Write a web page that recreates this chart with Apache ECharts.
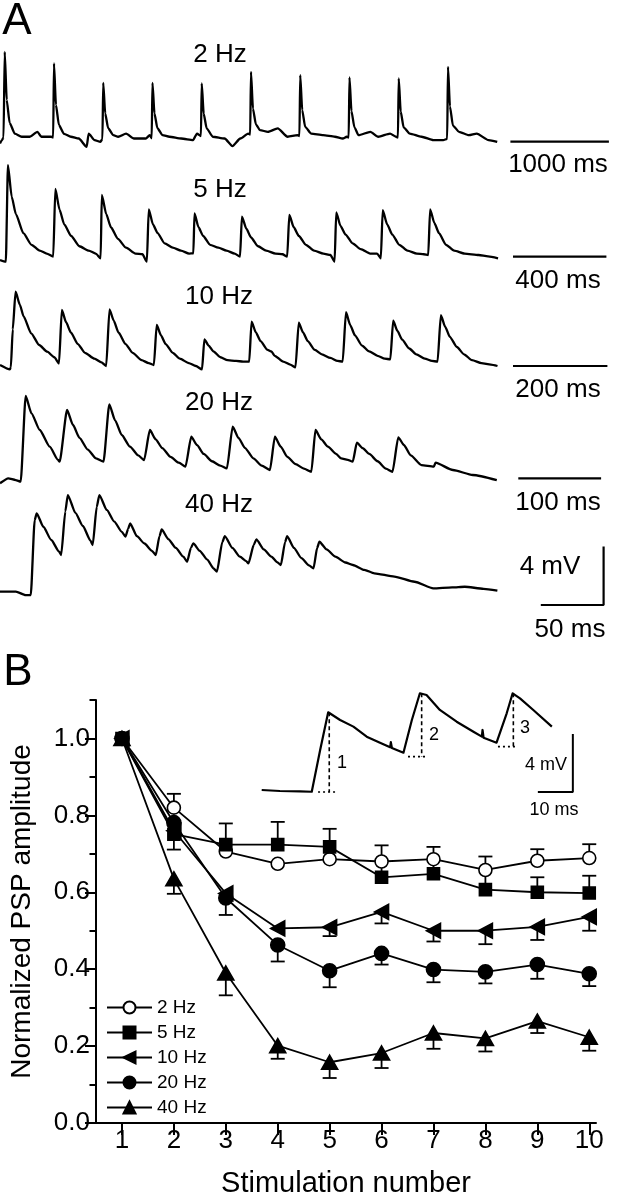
<!DOCTYPE html>
<html><head><meta charset="utf-8">
<script src="https://cdn.jsdelivr.net/npm/echarts@6/dist/echarts.min.js"></script>
<style>html,body{margin:0;padding:0;background:#fff}#c{width:618px;height:1199px}</style>
</head><body><div id="c"></div><script>
// ---------------- DATA ----------------
const stimNumbers = [1,2,3,4,5,6,7,8,9,10];
const freqLabels = ['2 Hz','5 Hz','10 Hz','20 Hz','40 Hz'];
const amp2Hz  = [1.0,0.820,0.706,0.674,0.686,0.680,0.686,0.658,0.682,0.689];
const err2Hz  = [0,0.036,0,0,0,0,0,0,0.030,0.036];
const amp5Hz  = [1.0,0.751,0.724,0.724,0.718,0.639,0.648,0.607,0.600,0.598];
const err5Hz  = [0,0,0.055,0.059,0.047,0.083,0.070,0.086,0.039,0.045];
const amp10Hz = [1.0,0.760,0.597,0.506,0.509,0.549,0.500,0.500,0.510,0.536];
const err10Hz = [0,0,0,0,0.023,0.030,0.028,0.035,0.034,0.036];
const amp20Hz = [1.0,0.781,0.585,0.463,0.396,0.441,0.399,0.393,0.412,0.388];
const err20Hz = [0,0.070,0.044,0.043,0.043,0.029,0.033,0.030,0.037,0.032];
const amp40Hz = [1.0,0.635,0.390,0.201,0.158,0.182,0.234,0.220,0.265,0.223];
const err40Hz = [0,0.039,0.058,0.034,0.041,0.039,0.041,0.034,0.031,0.035];
const yMajorTicks = [0,0.2,0.4,0.6,0.8,1.0];
const yMinorTicks = [0.1,0.3,0.5,0.7,0.9,1.1];

// Panel A traces: [time ms, mV relative to baseline]
const trace2Hz = [[0,-0.41],[20,-0.18],[36,0],[48,5.87],[68,2.58],[98,1.0],[150,0.27],[220,0.05],[300,0.05],[380,0.39],[420,0.05],[520,0.05],
 [540,0],[548,5.07],[568,2.23],[598,0.86],[650,0.25],[720,0.05],[800,-0.07],[880,-0.64],[900,0.27],[960,-0.18],[1020,-0.3],
 [1040,-0.1],[1048,3.74],[1068,1.65],[1098,0.64],[1150,0.16],[1200,0.05],[1280,0.27],[1360,-0.07],[1480,-0.07],[1520,0.16],
 [1540,-0.05],[1548,3.74],[1568,1.65],[1598,0.64],[1650,0.16],[1720,0.05],[1840,-0.07],[1960,-0.18],[2000,0.27],
 [2040,0.1],[2048,3.70],[2068,1.63],[2098,0.63],[2160,0.05],[2280,-0.07],[2360,-0.59],[2440,-0.07],[2520,0.27],
 [2540,0.2],[2548,4.50],[2568,1.98],[2598,0.9],[2640,0.5],[2720,0.39],[2820,0.62],[2920,0.05],[3020,0.16],
 [3040,0.1],[3048,4.27],[3068,1.88],[3098,0.73],[3160,0.27],[3280,0.16],[3400,0.05],[3480,-0.07],[3520,0.05],
 [3540,0],[3548,4.11],[3568,1.81],[3598,0.70],[3640,0.16],[3760,0.39],[3840,0.05],[3960,0.27],[4020,0.05],
 [4040,0],[4048,4.04],[4068,1.78],[4098,0.69],[4160,0.27],[4280,0.05],[4400,-0.18],[4500,-0.18],
 [4540,-0.1],[4548,4.84],[4568,2.13],[4598,0.82],[4660,0.39],[4760,0.16],[4840,0.27],[4960,-0.18],[5048,-0.3]];
const trace5Hz = [[0,-0.34],[25,-0.46],[34,6.16],[50,4.0],[68,2.8],[100,1.5],[135,0.7],[170,0.3],[200,0.1],[228,-0.11],
 [237,4.52],[255,3.1],[275,2.1],[305,1.3],[340,0.6],[380,0.3],[410,0.1],[431,-0.23],
 [436,4.11],[455,2.8],[475,1.9],[505,1.1],[540,0.5],[580,0.1],[610,0.05],[629,-0.46],
 [637,3.13],[655,2.1],[675,1.5],[705,0.8],[740,0.5],[775,0.3],[810,0.1],[828,0.11],
 [833,2.85],[850,1.9],[870,1.3],[900,0.7],[935,0.5],[970,0.3],[1005,0.1],[1028,-0.11],
 [1036,2.63],[1055,1.8],[1075,1.2],[1105,0.6],[1140,0.3],[1180,0.1],[1210,0.05],[1230,-0.11],
 [1239,2.74],[1258,1.9],[1280,1.3],[1310,0.7],[1345,0.3],[1385,0.1],[1415,0.0],[1433,-0.46],
 [1440,2.92],[1458,2.0],[1480,1.4],[1510,0.8],[1545,0.4],[1585,0.1],[1615,0.1],[1631,-0.23],
 [1639,3.08],[1658,2.1],[1680,1.4],[1710,0.7],[1745,0.3],[1785,0.1],[1815,0.05],[1834,0],
 [1842,3.13],[1860,2.2],[1880,1.5],[1910,0.7],[1945,0.3],[1990,0.1],[2050,0.0],[2090,-0.1],[2133,-0.23]];
const trace10Hz = [[0,0.07],[21,-0.23],[23,-0.09],[27,2.5],[33,5.09],[42,4.2],[50,3.4],[66,2.24],[83,1.44],[100,0.98],[115,0.6],[125,0.18],
 [131,3.84],[140,3.0],[150,2.3],[165,1.5],[180,0.9],[200,0.5],[215,0.25],[225,0],
 [232,3.88],[241,3.1],[251,2.3],[266,1.5],[281,0.9],[300,0.4],[315,0.2],[326,0.07],
 [332,2.81],[341,2.1],[351,1.5],[366,0.9],[381,0.5],[400,0.2],[415,0.0],[428,-0.23],
 [433,1.83],[442,1.4],[452,1.0],[467,0.6],[482,0.4],[500,0.35],[515,0.3],[528,0.3],
 [533,3.04],[542,2.3],[552,1.7],[567,1.1],[575,1.0],[582,0.7],[600,0.3],[615,0.1],[626,-0.09],
 [633,2.97],[642,2.3],[652,1.7],[667,1.1],[682,0.8],[700,0.55],[715,0.35],[726,0.3],
 [733,3.68],[742,2.8],[752,2.1],[767,1.4],[782,1.0],[800,0.7],[815,0.5],[827,0.46],
 [833,3.11],[842,2.4],[852,1.8],[867,1.2],[882,0.8],[900,0.5],[915,0.35],[927,0.3],
 [934,3.49],[943,2.7],[953,2.0],[968,1.3],[983,0.8],[1000,0.4],[1020,0.2],[1040,0.1],[1054,0.0]];
const trace20Hz = [[0,-0.11],[10,0.23],[19,0.11],[25,0],[31,5.87],[38,4.68],[48,3.54],[60,2.40],[70,1.5],[72,1.37],
 [81,4.91],[88,3.9],[96,3.0],[106,2.2],[116,1.6],[125,1.37],
 [132,5.30],[139,4.2],[147,3.2],[157,2.4],[167,1.8],[174,1.48],
 [181,3.54],[188,2.9],[196,2.3],[206,1.7],[216,1.3],[224,1.03],
 [231,3.08],[238,2.5],[246,1.9],[256,1.4],[266,1.1],[274,0.91],
 [281,3.77],[288,3.0],[296,2.3],[306,1.6],[316,1.1],[326,0.80],
 [332,3.08],[339,2.4],[347,1.7],[357,1.2],[367,0.9],[376,0.68],
 [381,3.54],[388,2.9],[396,2.4],[406,1.9],[412,1.6],[420,1.5],[426,1.37],
 [431,2.67],[438,2.3],[446,1.9],[456,1.4],[466,0.9],[474,0.68],
 [481,3.04],[488,2.5],[496,1.8],[509,1.14],[524,1.03],[526,1.30],[547,0.8],[571,0.46],[600,0.11]];
const trace40Hz = [[0,0],[12.6,0],[20.4,-0.23],[24.5,-0.23],[27.6,4.9],[29.2,5.37],[34.5,4.45],[40.8,3.54],[47.1,2.74],[48.7,2.51],
 [52,5.5],[54,6.62],[60,5.4],[66,4.5],[72,3.5],[73.8,3.20],
 [77,5.8],[79.1,6.62],[85,5.6],[91,4.8],[97,4.1],[99.9,3.77],
 [102,4.3],[103.6,4.68],[109,3.8],[115,3.3],[121,2.8],[124,2.51],
 [127,3.8],[128.7,4.27],[134,3.6],[140,3.0],[146,2.4],[149,2.05],
 [152,3.0],[153.9,3.31],[159,2.8],[165,2.2],[170,1.6],[172.7,1.37],
 [177,3.4],[179,3.81],[185,3.0],[191,2.4],[196,2.1],[197.8,1.94],
 [202,3.2],[204.1,3.58],[210,2.9],[216,2.4],[221,2.0],[223.6,1.83],
 [227,3.4],[228.6,3.81],[234,3.0],[240,2.3],[246,1.8],[249.6,1.60],
 [252.5,3.0],[254.3,3.42],[260,2.9],[267,2.40],[275,2.0],[281,1.83],[290,1.5],[298,1.26],[314,1.03],[330,0.68],[345,0.23],[360,0.3],[370,0.34],[385,0.2],[396,0.07]];
const traceScaleMs = [1000,400,200,100,50];
const scaleBarMv = 4;

// Panel B inset trace [ms, mV]
const insetTrace = [[0,0],[5.2,-0.07],[10.9,-0.09],[14.3,-0.12],[16.7,2.76],[19.0,5.36],[22.4,4.83],[26.2,4.37],[30.0,3.68],[33.8,3.26],[36.7,2.94],[36.9,3.3],[37.2,2.9],[40.5,2.57],
 [42.9,4.83],[45.2,6.67],[47.1,6.55],[50.9,5.52],[55.7,4.71],[60.5,4.02],[62.9,3.68],[63.1,4.14],[63.4,3.6],[67.1,3.26],
 [70.0,5.29],[71.7,6.67],[73.8,6.32],[77.6,5.52],[82.9,4.37]];
// measured amplitudes: [peak time, baseline mV, peak mV, dotted start, dotted end]
const insetMeasures = [[19.3,-0.14,5.36,16.1,21.5],[45.7,2.30,6.67,41.8,47.5],[71.9,2.99,6.67,67.5,73.2]];
const insetMeasureLabels = ['1','2','3'];
const insetScaleMs = 10, insetScaleMv = 4;

// ---------------- LAYOUT ----------------
const FF = '"Liberation Sans", Arial, Helvetica, sans-serif';
const PX_PER_MV = 14.6;
const traceBaselinePx = [137.5, 255, 366, 481.7, 591.7];
const tracePxPerMs = [0.0985, 0.2335, 0.472, 0.828, 1.256];
const barStartPx = [510.4, 513, 513, 518.3, 540.8];
const barYPx = [141.7, 256.7, 366, 478.3, 605];
const traces = [trace2Hz, trace5Hz, trace10Hz, trace20Hz, trace40Hz];
const MV_MIN = -1.5, MV_MAX = 7.5;

const grids = [], xAxes = [], yAxes = [], series = [];
traces.forEach((tr, i) => {
  const k = tracePxPerMs[i], base = traceBaselinePx[i];
  grids.push({left:0, width:618, top: base - MV_MAX*PX_PER_MV, height:(MV_MAX-MV_MIN)*PX_PER_MV});
  xAxes.push({gridIndex:i, type:'value', min:0, max:618/k, show:false});
  yAxes.push({gridIndex:i, type:'value', min:MV_MIN, max:MV_MAX, show:false});
  series.push({type:'line', xAxisIndex:i, yAxisIndex:i, data:tr, symbol:'none', silent:true,
    smooth:0.2, smoothMonotone:'x',
    lineStyle:{color:'#000', width:2.3, join:'round'}, z:2});
  const t0 = barStartPx[i]/k, t1 = t0 + traceScaleMs[i];
  const mv = (base - barYPx[i])/PX_PER_MV;
  const bar = [[t0,mv],[t1,mv]];
  if (i === 4) bar.push([t1, mv + scaleBarMv]);
  series.push({type:'line', xAxisIndex:i, yAxisIndex:i, data:bar, symbol:'none', silent:true,
    lineStyle:{color:'#000', width:2.2}});
});

// inset grid (index 5)
const INSET_PX_MS = 3.5, INSET_PX_MV = 14.5;
grids.push({left:261.7, width:90*INSET_PX_MS, top:790 - 8*INSET_PX_MV, height:9*INSET_PX_MV});
xAxes.push({gridIndex:5, type:'value', min:0, max:90, show:false});
yAxes.push({gridIndex:5, type:'value', min:-1, max:8, show:false});
series.push({type:'line', xAxisIndex:5, yAxisIndex:5, data:insetTrace, symbol:'none', silent:true, lineStyle:{color:'#000', width:2.2, join:'round'}});
insetMeasures.forEach(m => {
  series.push({type:'line', xAxisIndex:5, yAxisIndex:5, data:[[m[3],m[1]],[m[4],m[1]]], symbol:'none', silent:true,
    lineStyle:{color:'#000', width:1.6, type:[2,3]}});
  series.push({type:'line', xAxisIndex:5, yAxisIndex:5, data:[[m[0],m[2]],[m[0],m[1]]], symbol:'none', silent:true,
    lineStyle:{color:'#000', width:1.6, type:[4,3]}});
});
const insetBarT1 = 88.9, insetBarMv = -0.14;
series.push({type:'line', xAxisIndex:5, yAxisIndex:5, symbol:'none', silent:true, lineStyle:{color:'#000', width:2},
  data:[[insetBarT1-insetScaleMs, insetBarMv],[insetBarT1, insetBarMv],[insetBarT1, insetBarMv+insetScaleMv]]});

// main panel B grid (index 6)
grids.push({left:89, top:700, width:507, height:428});
xAxes.push({gridIndex:6, type:'value', min:0.5, max:10.13,
  axisLine:{show:true, onZero:false, lineStyle:{color:'#000', width:2}},
  axisTick:{show:true, inside:false, length:12, customValues:stimNumbers, lineStyle:{color:'#000', width:2}},
  axisLabel:{show:true, customValues:stimNumbers, color:'#000', fontSize:26, fontFamily:FF, margin:5},
  splitLine:{show:false},
  name:'Stimulation number', nameLocation:'middle', nameGap:46,
  nameTextStyle:{fontSize:29, color:'#000', fontFamily:FF}});
yAxes.push({gridIndex:6, type:'value', min:0, max:1.1, interval:0.2, position:'left',
  axisLine:{show:true, lineStyle:{color:'#000', width:2}},
  axisTick:{show:true, length:11, customValues:yMajorTicks, lineStyle:{color:'#000', width:2}},
  axisLabel:{show:true, customValues:yMajorTicks, formatter:v => v.toFixed(1), color:'#000', fontSize:26, fontFamily:FF, margin:6},
  splitLine:{show:false},
  name:'Normalized PSP amplitude', nameLocation:'middle', nameGap:60, nameRotate:90,
  nameTextStyle:{fontSize:28, color:'#000', fontFamily:FF}});
yAxes.push({gridIndex:6, type:'value', min:0, max:1.1, position:'left',
  axisLine:{show:false}, axisLabel:{show:false}, splitLine:{show:false},
  axisTick:{show:true, length:6.5, customValues:yMinorTicks, lineStyle:{color:'#000', width:2}}});

const ampSets = [amp2Hz, amp5Hz, amp10Hz, amp20Hz, amp40Hz];
const errSets = [err2Hz, err5Hz, err10Hz, err20Hz, err40Hz];
const styles = [
  {symbol:'circle', size:13, fill:'#fff', rotate:0, dir:1},
  {symbol:'rect', size:12, fill:'#000', rotate:0, dir:1},
  {symbol:'triangle', size:[15,14], fill:'#000', rotate:90, dir:-1},
  {symbol:'circle', size:14, fill:'#000', rotate:0, dir:-1},
  {symbol:'triangle', size:[16,14], fill:'#000', rotate:0, dir:-1}];

ampSets.forEach((vals, si) => {
  const st = styles[si];
  series.push({type:'custom', name:'err'+si, xAxisIndex:6, yAxisIndex:6, z:3, silent:true,
    data: stimNumbers.map((s, j) => [s, vals[j], errSets[si][j]]),
    renderItem: (params, api) => {
      const x = api.value(0), y = api.value(1), e = api.value(2);
      if (!e) return null;
      const p0 = api.coord([x, y]), p1 = api.coord([x, y + st.dir*e]);
      return {type:'group', children:[
        {type:'line', shape:{x1:p0[0], y1:p0[1], x2:p1[0], y2:p1[1]}, style:{stroke:'#000', lineWidth:1.8}},
        {type:'line', shape:{x1:p1[0]-7, y1:p1[1], x2:p1[0]+7, y2:p1[1]}, style:{stroke:'#000', lineWidth:1.8}}]};
    }});
});
ampSets.forEach((vals, si) => {
  const st = styles[si];
  series.push({type:'line', name:freqLabels[si], xAxisIndex:6, yAxisIndex:6, z:4 + si*0.1,
    data: stimNumbers.map((s, j) => [s, vals[j]]),
    symbol:st.symbol, symbolSize:st.size, symbolRotate:st.rotate, showSymbol:true,
    lineStyle:{color:'#000', width:1.8},
    itemStyle:{color:st.fill, borderColor:'#000', borderWidth:1.6}});
});

function txt(text, x, y, size, align) {
  return {type:'text', x:x, y:y, z:100, style:{text:text, fill:'#000', fontSize:size, fontFamily:FF,
    textAlign:align||'center', textVerticalAlign:'middle', align:align||'center', verticalAlign:'middle'}};
}
const graphics = [
  txt('A', 17, 22, 44), txt('B', 18, 673, 44),
  txt('2 Hz', 220, 55, 26), txt('5 Hz', 220, 190, 26), txt('10 Hz', 219, 297, 26),
  txt('20 Hz', 219, 403, 26), txt('40 Hz', 219, 505, 26),
  txt('1000 ms', 558, 165, 26), txt('400 ms', 558, 281, 26), txt('200 ms', 558, 390, 26),
  txt('100 ms', 558, 503, 26), txt('4 mV', 550, 567, 26), txt('50 ms', 570, 630, 26),
  txt(insetMeasureLabels[0], 342, 763, 18), txt(insetMeasureLabels[1], 434, 735, 18), txt(insetMeasureLabels[2], 525, 728, 18),
  txt('4 mV', 567, 765, 18, 'right'), txt('10 ms', 554, 810, 18)
];

const chart = echarts.init(document.getElementById('c'), null, {renderer:'canvas'});
chart.setOption({
  animation:false,
  backgroundColor:'#fff',
  grid:grids, xAxis:xAxes, yAxis:yAxes, series:series,
  legend:{orient:'vertical', left:101, top:993, itemWidth:45, itemHeight:15, itemGap:6,
    selectedMode:false, data:freqLabels,
    textStyle:{fontSize:19, color:'#000', fontFamily:FF}},
  graphic:graphics
});
</script></body></html>
